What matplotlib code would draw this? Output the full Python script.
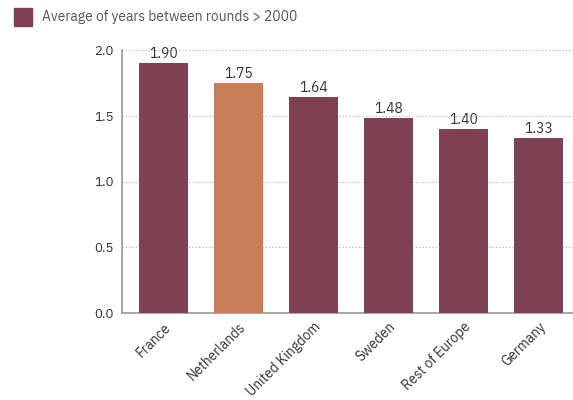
import matplotlib.pyplot as plt
from matplotlib.patches import Rectangle
import matplotlib.transforms as mtransforms

plt.rcParams['font.family'] = ['IBM Plex Sans', 'Noto Sans', 'DejaVu Sans']

countries = ['France', 'Netherlands', 'United Kingdom', 'Sweden', 'Rest of Europe', 'Germany']
avg_years = [1.90, 1.75, 1.64, 1.48, 1.40, 1.33]
highlight = 'Netherlands'
yticks = [0.0, 0.5, 1.0, 1.5, 2.0]

maroon = '#7e4153'
orange = '#c97d59'

fig = plt.figure(figsize=(5.73, 4.0), dpi=100)
ax = fig.add_axes([0.213, 0.2175, 0.787, 0.6575])

x = range(len(countries))
colors = [orange if c == highlight else maroon for c in countries]
bars = ax.bar(x, avg_years, width=0.65, color=colors, zorder=3)

for b, v in zip(bars, avg_years):
    ax.text(b.get_x() + b.get_width() / 2, v + 0.015, f'{v:.2f}',
            ha='center', va='bottom', fontsize=10, color='#333333', clip_on=False)

ax.set_xlim(-0.553, 5.46)
ax.set_ylim(0, 2.0)
ax.set_yticks(yticks)
ax.set_yticklabels([f'{t:.1f}' for t in yticks], fontsize=9.5, color='#333333')
ax.set_xticks(list(x))
ax.set_xticklabels(countries, rotation=45, ha='right', rotation_mode='anchor',
                   fontsize=9.8, color='#333333')
shift = mtransforms.ScaledTranslation(3 / 72, 3 / 72, fig.dpi_scale_trans)
for lbl in ax.get_xticklabels():
    lbl.set_transform(lbl.get_transform() + shift)

ax.tick_params(axis='x', length=0, pad=5)
ax.tick_params(axis='y', length=0, pad=6)
ax.yaxis.grid(True, linestyle=(0, (1, 2)), color='#aaaaaa', linewidth=0.8, zorder=0)
for s in ['top', 'right']:
    ax.spines[s].set_visible(False)
for s in ['left', 'bottom']:
    ax.spines[s].set_color('#999999')
    ax.spines[s].set_linewidth(1.2)

# legend swatch and label
fig.patches.append(Rectangle((14 / 573, 1 - 26 / 400), 18 / 573, 18 / 400,
                             transform=fig.transFigure, color=maroon))
fig.text(42 / 573, 1 - 17 / 400, 'Average of years between rounds > 2000',
         fontsize=10, color='#555555', va='center', ha='left')

fig.savefig('out.png', dpi=100)
